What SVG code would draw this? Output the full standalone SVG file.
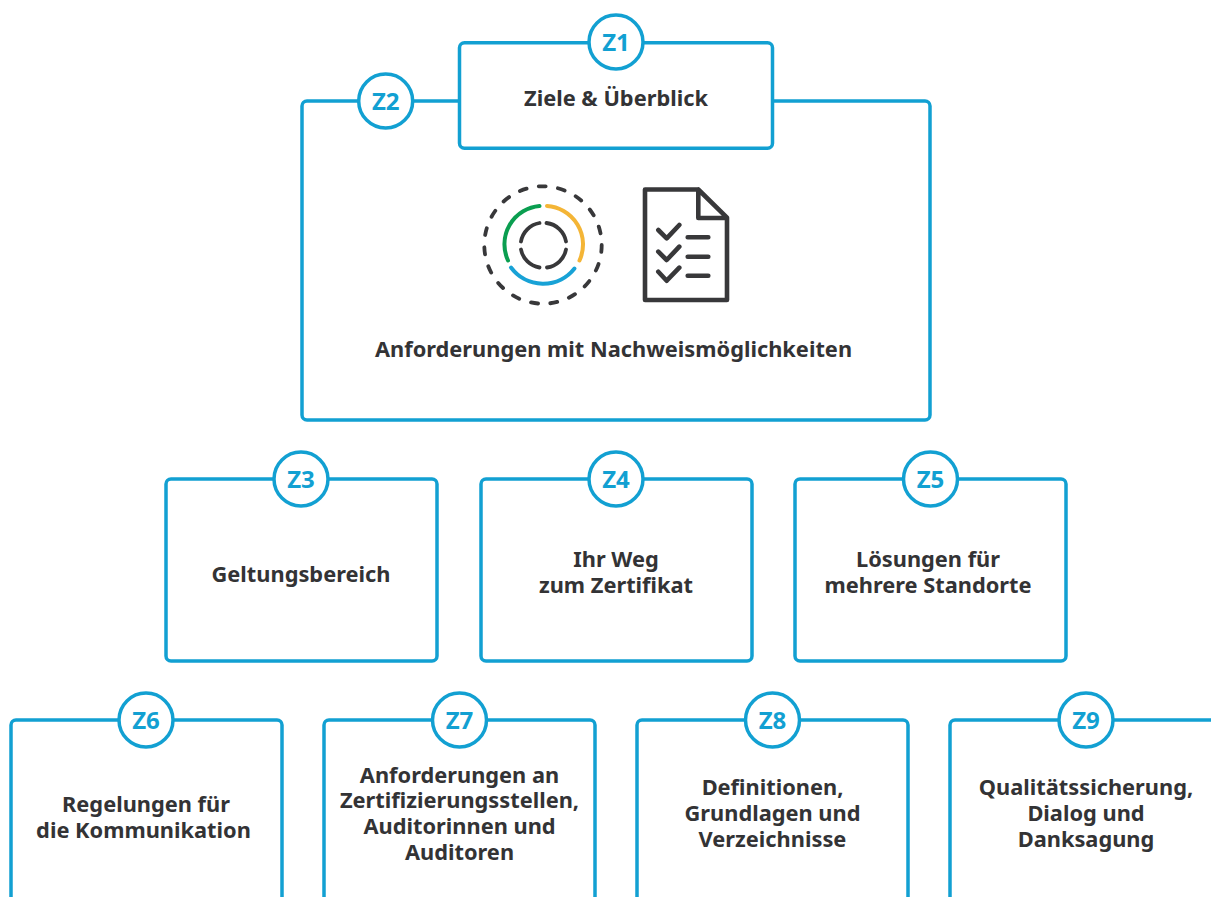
<svg xmlns="http://www.w3.org/2000/svg" width="1211" height="897" viewBox="0 0 1211 897">
<style>
.box{fill:#fff;stroke:#12a0d2;stroke-width:3.5}
.open{fill:#fff;stroke:#12a0d2;stroke-width:3.5;stroke-linejoin:round}
.badge{fill:#fff;stroke:#12a0d2;stroke-width:3.5}
.z{font:700 24px "Noto Sans",sans-serif;fill:#12a0d2;text-anchor:middle}
.t{font:700 21.800px "Noto Sans",sans-serif;fill:#333335;text-anchor:middle}
.ic{fill:none;stroke:#38383a;stroke-width:3.800;stroke-linecap:round;stroke-linejoin:round}
.doc{fill:none;stroke:#38383a;stroke-width:4.600;stroke-linecap:round;stroke-linejoin:round}
.arc{fill:none;stroke-width:4;stroke-linecap:round}
</style>
<rect width="1211" height="897" fill="#fff"/>
<g id="z2">
<rect class="box" x="302" y="101" width="628" height="319" rx="5"/>
<circle class="badge" cx="385.700" cy="101" r="27"/>
<text class="z" x="385.700" y="109.500">Z2</text>
<text class="t" x="613.500" y="357">Anforderungen mit Nachweismöglichkeiten</text>
<circle class="ic" cx="543" cy="245" r="58.700" stroke-dasharray="7 12.420"/>
<path class="arc" stroke="#0a9e50" d="M508 260.500A38.500 38.500 0 0 1 539.500 206"/>
<path class="arc" stroke="#f4b536" d="M547 206A38.500 38.500 0 0 1 579.500 260.500"/>
<path class="arc" stroke="#18a2d6" d="M511 267.500A40 40 0 0 0 574.500 268.500"/>
<path class="ic" d="M539.500 223A22.500 22.500 0 0 0 521 241.500M546.500 223A22.500 22.500 0 0 1 566 241.500M566 249.500A22.500 22.500 0 0 1 547 267.500M539.500 267.500A22.500 22.500 0 0 1 521 249.500"/>
<path class="doc" d="M698.300 189.500H645V300H727V217.700L698.300 189.500V218H727"/>
<path class="doc" d="M658.300 230L666.700 238.300L679.300 225M658.300 251.700L666.700 260L679.300 246.700M658.300 271.700L666.700 280.700L679.300 267.700M687.700 237.300H708.300M687.700 256.700H708.300M687.700 275.700H708.300"/>
</g>
<g id="z1">
<rect class="box" x="459.500" y="42.700" width="313" height="105.500" rx="5"/>
<circle class="badge" cx="616" cy="42" r="27"/>
<text class="z" x="616" y="51">Z1</text>
<text class="t" x="616" y="105.700">Ziele &amp; Überblick</text>
</g>
<g id="z3">
<rect class="box" x="166" y="479" width="271" height="182" rx="5"/>
<circle class="badge" cx="301" cy="479" r="27"/>
<text class="z" x="301" y="487.500">Z3</text>
<text class="t" x="301" y="582">Geltungsbereich</text>
</g>
<g id="z4">
<rect class="box" x="481" y="479" width="271" height="182" rx="5"/>
<circle class="badge" cx="616" cy="479" r="27"/>
<text class="z" x="616" y="487.500">Z4</text>
<text class="t" y="567"><tspan x="616">Ihr Weg</tspan><tspan x="616" dy="25.500">zum Zertifikat</tspan></text>
</g>
<g id="z5">
<rect class="box" x="795" y="479" width="271" height="182" rx="5"/>
<circle class="badge" cx="930.500" cy="479" r="27"/>
<text class="z" x="930.500" y="487.500">Z5</text>
<text class="t" y="567"><tspan x="928">Lösungen für</tspan><tspan x="928" dy="25.500">mehrere Standorte</tspan></text>
</g>
<g id="z6">
<path class="open" d="M11 899V725a5 5 0 0 1 5-5H277a5 5 0 0 1 5 5V899"/>
<circle class="badge" cx="146" cy="720" r="27"/>
<text class="z" x="146" y="728.500">Z6</text>
<text class="t" y="812"><tspan x="146">Regelungen für</tspan><tspan x="143.500" dy="25.500">die Kommunikation</tspan></text>
</g>
<g id="z7">
<path class="open" d="M324 899V725a5 5 0 0 1 5-5H590a5 5 0 0 1 5 5V899"/>
<circle class="badge" cx="459.500" cy="720" r="27"/>
<text class="z" x="459.500" y="728.500">Z7</text>
<text class="t" y="782.500"><tspan x="459.500">Anforderungen an</tspan><tspan x="459.500" dy="25.700">Zertifizierungsstellen,</tspan><tspan x="459.500" dy="25.700">Auditorinnen und</tspan><tspan x="459.500" dy="25.700">Auditoren</tspan></text>
</g>
<g id="z8">
<path class="open" d="M637 899V725a5 5 0 0 1 5-5H903a5 5 0 0 1 5 5V899"/>
<circle class="badge" cx="772.500" cy="720" r="27"/>
<text class="z" x="772.500" y="728.500">Z8</text>
<text class="t" y="795"><tspan x="772.500">Definitionen,</tspan><tspan x="772.500" dy="26">Grundlagen und</tspan><tspan x="772.500" dy="26">Verzeichnisse</tspan></text>
</g>
<g id="z9">
<path class="open" d="M950 899V725a5 5 0 0 1 5-5H1213"/>
<circle class="badge" cx="1086" cy="720" r="27"/>
<text class="z" x="1086" y="728.500">Z9</text>
<text class="t" y="795"><tspan x="1086">Qualitätssicherung,</tspan><tspan x="1086" dy="26">Dialog und</tspan><tspan x="1086" dy="26">Danksagung</tspan></text>
</g>
<g id="connectors"/>
</svg>
